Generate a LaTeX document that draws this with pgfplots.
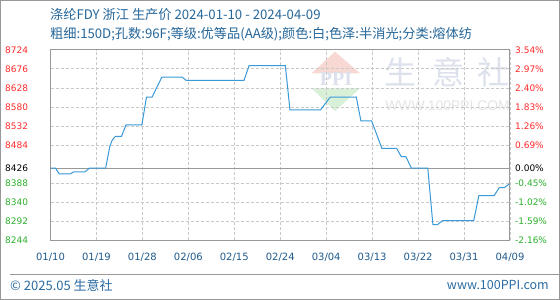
\documentclass[border=0pt]{standalone}
\usepackage{pgfplots}
\pgfplotsset{compat=1.18}
\usepackage{fontspec}
\setmainfont{DejaVu Sans}
\newfontfamily\cjk{Noto Sans CJK SC}
\newfontfamily\wmfont{Liberation Sans}
\newfontfamily\wmserif{Liberation Serif}

\definecolor{linec}{HTML}{3A9AD9}
\definecolor{titlec}{HTML}{25679A}
\definecolor{tickc}{HTML}{1F5A8C}
\definecolor{upc}{HTML}{FF2A2A}
\definecolor{downc}{HTML}{2DB02D}
\definecolor{gridc}{HTML}{C8C8C8}
\definecolor{framec}{HTML}{999999}
\definecolor{wmark}{HTML}{DCE1EC}
\definecolor{wmgray}{HTML}{E4E4E4}
\definecolor{wmpink}{HTML}{F7D8D3}
\definecolor{wmgreen}{HTML}{D8EFD8}
\definecolor{footc}{HTML}{2A6BA3}

\pgfplotsset{
  pricebox/.style={
    at={(50.5pt,59.5pt)}, anchor=south west,
    scale only axis, width=459.5pt, height=190.7pt,
    xmin=0, xmax=90, ymin=8244, ymax=8724,
    ytick={8244,8292,8340,8388,8426,8484,8532,8580,8628,8676,8724},
    tick style={draw=none},
    axis line style={framec, line width=1pt},
    every tick label/.append style={font=\fontsize{9}{9}\selectfont, inner sep=0pt},
  }
}

\begin{document}
\begin{tikzpicture}[x=1pt,y=1pt]
\useasboundingbox (0,0) rectangle (560,300);
\fill[white] (0,0) rectangle (560,300);
\draw[framec, line width=1pt] (0.5,0.5) rectangle (559.5,299.5);

% header
\node[anchor=west, inner sep=0pt, text=titlec] at (50,285)
  {\cjk\fontsize{13.2}{13.2}\selectfont 涤纶FDY 浙江 生产价 2024-01-10 - 2024-04-09};
\node[anchor=west, inner sep=0pt, text=titlec] at (50,265.3)
  {\cjk\fontsize{13.2}{13.2}\selectfont 粗细:150D;孔数:96F;等级:优等品(AA级);颜色:白;色泽:半消光;分类:熔体纺};

% watermark behind the plot
\fill[wmpink] (335,248.3) -- (311.7,226.7) -- (360,226.7) -- cycle;
\fill[wmgreen] (311.7,211.7) -- (360,211.7) -- (335,189) -- cycle;
\node[text=wmark, inner sep=0pt] at (336,221) {\wmserif\fontsize{20}{20}\selectfont\bfseries PPI};
\node[text=wmark, inner sep=0pt] at (400,228) {\cjk\fontsize{32}{32}\selectfont 生};
\node[text=wmark, inner sep=0pt] at (448,228) {\cjk\fontsize{32}{32}\selectfont 意};
\node[text=wmark, inner sep=0pt] at (493,228) {\cjk\fontsize{32}{32}\selectfont 社};
\node[text=wmgray, inner sep=0pt] at (447.5,194) {\wmfont\fontsize{13.9}{13.9}\selectfont WWW.100PPI.COM};

% footer
\draw[framec, line width=1pt] (10,25.3) -- (559,25.3);
\node[anchor=west, inner sep=0pt, text=footc] at (10,15)
  {\cjk\fontsize{13}{13}\selectfont © 2025.05 生意社};
\node[anchor=east, inner sep=0pt, text=footc] at (549,15)
  {\cjk\fontsize{12.5}{12.5}\selectfont www.100PPI.com};

% price axis (left)
\begin{axis}[
  pricebox,
  xtick={0,9,...,90},
  xticklabels={01/10,01/19,01/28,02/06,02/15,02/24,03/04,03/13,03/22,03/31,04/09},
  xticklabel style={anchor=center, yshift=-16.7pt, text=tickc, font=\fontsize{10}{10}\selectfont},
  yticklabels={\textcolor{downc}{8244},\textcolor{downc}{8292},\textcolor{downc}{8340},\textcolor{downc}{8388},
               \textcolor{black}{8426},
               \textcolor{upc}{8484},\textcolor{upc}{8532},\textcolor{upc}{8580},\textcolor{upc}{8628},\textcolor{upc}{8676},\textcolor{upc}{8724}},
  yticklabel style={anchor=west, xshift=-45.5pt},
  grid=major,
  major grid style={gridc, line width=0.8pt, dash pattern=on 3pt off 2pt},
]
\draw[framec, line width=1pt] (axis cs:0,8426) -- (axis cs:90,8426);
\addplot[linec, line width=1pt] coordinates {
  (0,8426) (1.0,8426) (1.7,8412) (3.9,8412) (4.6,8417) (6.8,8417) (7.6,8426)
  (10.8,8426) (11.6,8480) (12.1,8497) (12.7,8506) (13.9,8506) (14.8,8535)
  (17.9,8535) (18.8,8605) (19.9,8605) (21.8,8655) (25.8,8655) (26.6,8647)
  (37.9,8647) (38.9,8684) (46.0,8684) (46.9,8573) (52.9,8573) (54.8,8605)
  (59.9,8605) (60.8,8545) (62.9,8545) (64.9,8476) (67.8,8476) (68.7,8455)
  (69.6,8455) (70.7,8426) (73.9,8426) (74.9,8284) (75.8,8284) (76.8,8294)
  (82.9,8294) (83.9,8357) (86.9,8357) (87.9,8377) (88.9,8377) (90,8388)
};
\end{axis}

% change-rate axis (right)
\begin{axis}[
  pricebox,
  axis x line=none,
  axis y line*=right,
  yticklabels={\textcolor{downc}{-2.16\%},\textcolor{downc}{-1.59\%},\textcolor{downc}{-1.02\%},\textcolor{downc}{-0.45\%},
               \textcolor{black}{0.00\%},
               \textcolor{upc}{0.69\%},\textcolor{upc}{1.26\%},\textcolor{upc}{1.83\%},\textcolor{upc}{2.40\%},\textcolor{upc}{2.97\%},\textcolor{upc}{3.54\%}},
  yticklabel style={anchor=west, xshift=5pt},
]
\end{axis}
\end{tikzpicture}
\end{document}
